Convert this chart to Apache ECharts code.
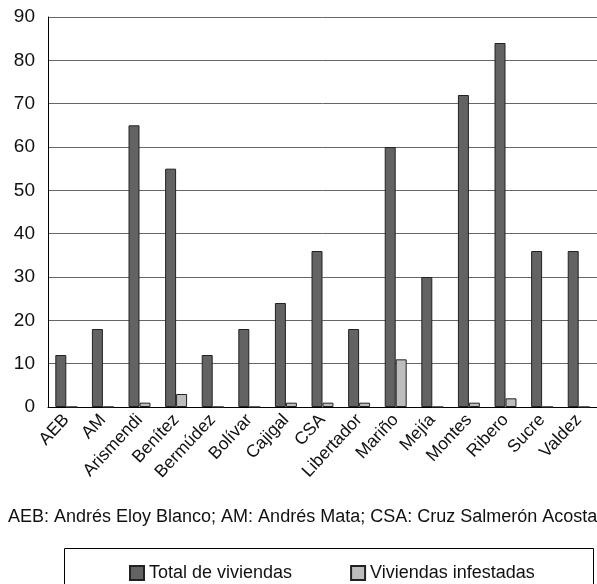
<!DOCTYPE html>
<html>
<head>
<meta charset="utf-8">
<script src="https://cdn.jsdelivr.net/npm/echarts@6/dist/echarts.min.js"></script>
<style>html,body{margin:0;padding:0;background:#fff}#c{width:597px;height:584px}</style>
</head>
<body>
<div id="c"></div>
<script>
const categories = ['AEB','AM','Arismendi','Benítez','Bermúdez','Bolívar','Cajigal','CSA','Libertador','Mariño','Mejía','Montes','Ribero','Sucre','Valdez'];
const totalViviendas = [12,18,65,55,12,18,24,36,18,60,30,72,84,36,36];
const viviendasInfestadas = [0,0,1,3,0,0,1,1,1,11,0,1,2,0,0];
const yTicks = [0,10,20,30,40,50,60,70,80,90];
const footnote = 'AEB: Andrés Eloy Blanco; AM: Andrés Mata; CSA: Cruz Salmerón Acosta';
const font = 'Liberation Sans, Arial, Helvetica, sans-serif';

const chart = echarts.init(document.getElementById('c'));
chart.setOption({
  animation: false,
  backgroundColor: '#fff',
  textStyle: { fontFamily: font },
  grid: { left: 48, right: -1, top: 17, bottom: 177, containLabel: false },
  xAxis: {
    type: 'category',
    data: categories,
    axisLine: { show: true, lineStyle: { color: '#000', width: 1 } },
    axisTick: { show: false },
    axisLabel: { rotate: 47, interval: 0, color: '#111', fontSize: 17.5, fontFamily: font, margin: 10 }
  },
  yAxis: {
    type: 'value',
    min: yTicks[0],
    max: yTicks[yTicks.length - 1],
    interval: 10,
    axisLine: { show: true, lineStyle: { color: '#000', width: 1 } },
    axisTick: { show: false },
    axisLabel: { color: '#111', fontSize: 19, fontFamily: font, margin: 13 },
    splitLine: { show: true, lineStyle: { color: '#666', width: 1 } }
  },
  legend: {
    data: ['Total de viviendas', 'Viviendas infestadas'],
    left: 124,
    top: 559,
    itemWidth: 14,
    itemHeight: 14,
    itemGap: 58,
    icon: 'rect',
    textStyle: { fontSize: 18, color: '#111', fontFamily: font }
  },
  graphic: [
    { type: 'rect', left: 62, top: 546, shape: { width: 529, height: 60 },
      style: { fill: 'none', stroke: '#000', lineWidth: 1 }, z: -1 },
    { type: 'text', left: 8, top: 508, style: { text: footnote, fontSize: 18, fill: '#111', fontFamily: font } }
  ],
  series: [
    {
      name: 'Total de viviendas', type: 'bar', data: totalViviendas,
      barWidth: '30%', barGap: '0%',
      itemStyle: { color: '#636363', borderColor: '#222', borderWidth: 1 }
    },
    {
      name: 'Viviendas infestadas', type: 'bar', data: viviendasInfestadas,
      barWidth: '30%',
      itemStyle: { color: '#bdbdbd', borderColor: '#222', borderWidth: 1 }
    }
  ]
});
</script>
</body>
</html>
